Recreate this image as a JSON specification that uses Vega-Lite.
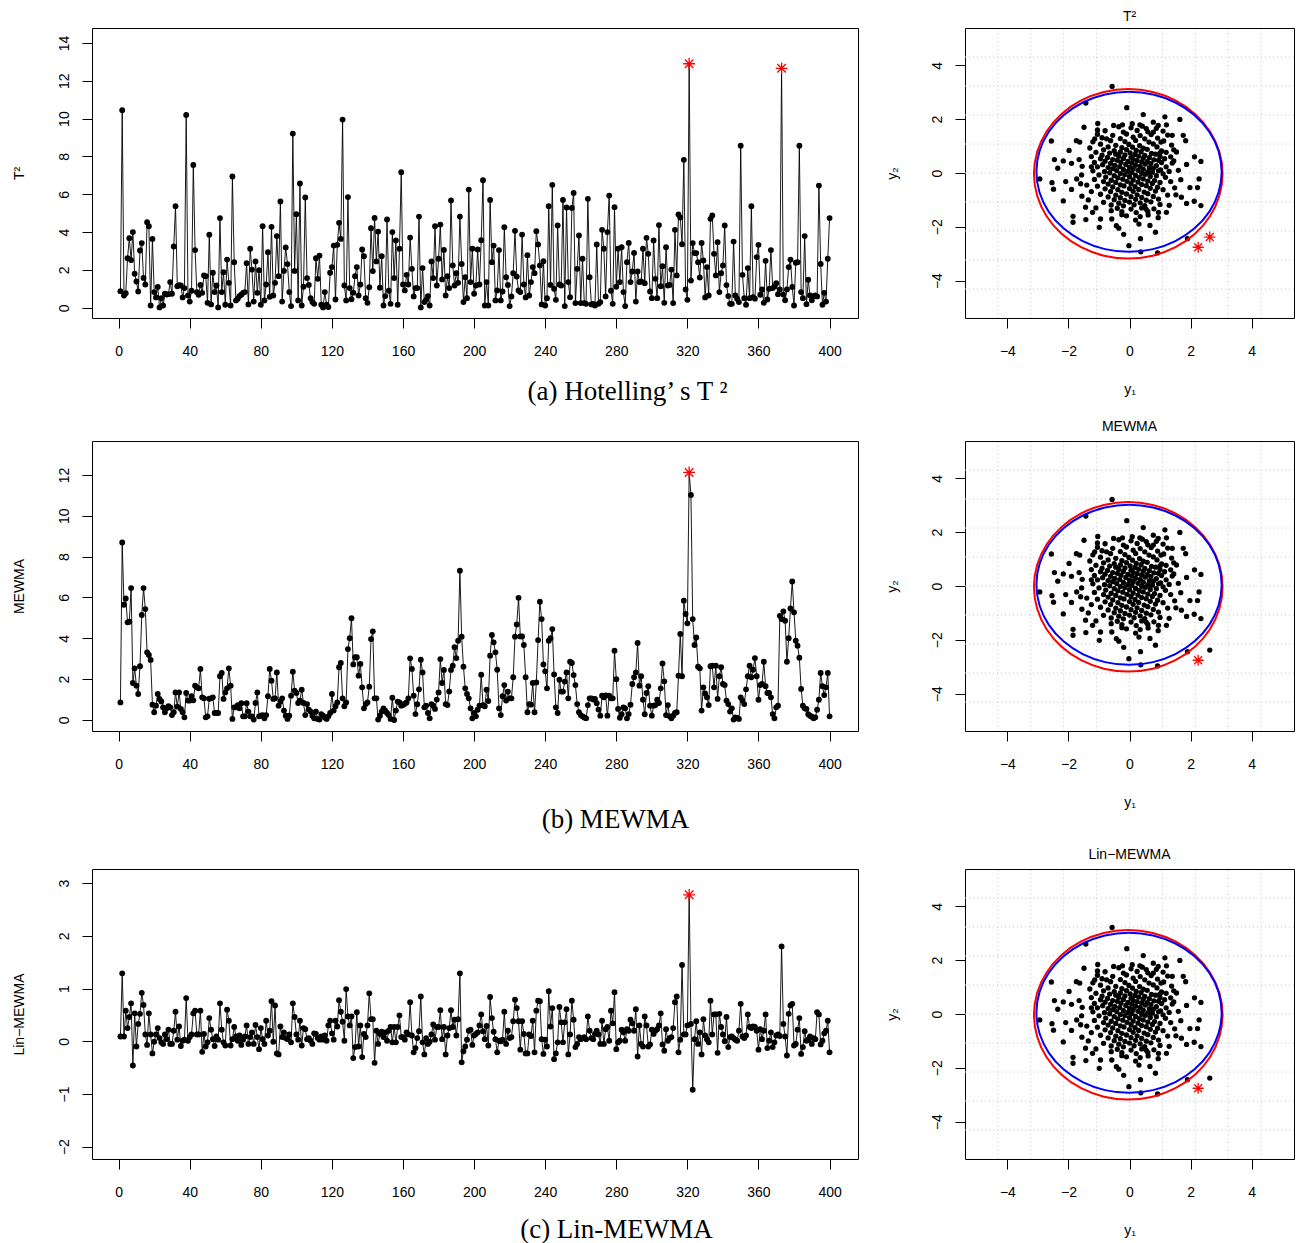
{
"$schema": "https://vega.github.io/schema/vega-lite/v6.json",
"padding": {"left": 11, "top": 9, "right": 0, "bottom": 0},
"spacing": 14,
"config": {
  "font": "Liberation Sans",
  "view": {"stroke": "#000", "strokeWidth": 1},
  "axis": {"domain": false, "grid": false, "ticks": true, "tickColor": "#000", "tickSize": 10, "tickWidth": 1, "labelFontSize": 14, "labelColor": "#000", "titleFontSize": 14, "titleFontWeight": "normal", "titleColor": "#000", "labelFont": "Liberation Sans", "titleFont": "Liberation Sans"},
  "axisX": {"labelPadding": 16, "titlePadding": 24},
  "axisY": {"labelAngle": -90, "labelAlign": "center", "labelBaseline": "bottom", "labelPadding": 11, "titlePadding": 31},
  "title": {"fontSize": 14, "fontWeight": "normal", "font": "Liberation Sans", "color": "#000", "frame": "group", "baseline": "alphabetic"}
},
"datasets": {
"grid": [{"x":-4.312,"y":-4.312},{"x":-3.234,"y":-3.234},{"x":-2.156,"y":-2.156},{"x":-1.078,"y":-1.078},{"x":0,"y":0},{"x":1.078,"y":1.078},{"x":2.156,"y":2.156},{"x":3.234,"y":3.234},{"x":4.312,"y":4.312}],
"ell": [
{"e":"E1","k":0,"x":3.05,"y":-0.03},{"e":"E1","k":1,"x":2.945,"y":0.786},{"e":"E1","k":2,"x":2.636,"y":1.545},{"e":"E1","k":3,"x":2.145,"y":2.197},{"e":"E1","k":4,"x":1.505,"y":2.698},{"e":"E1","k":5,"x":0.76,"y":3.013},{"e":"E1","k":6,"x":-0.04,"y":3.12},{"e":"E1","k":7,"x":-0.84,"y":3.013},{"e":"E1","k":8,"x":-1.585,"y":2.698},{"e":"E1","k":9,"x":-2.225,"y":2.197},{"e":"E1","k":10,"x":-2.716,"y":1.545},{"e":"E1","k":11,"x":-3.025,"y":0.786},{"e":"E1","k":12,"x":-3.13,"y":-0.03},{"e":"E1","k":13,"x":-3.025,"y":-0.846},{"e":"E1","k":14,"x":-2.716,"y":-1.605},{"e":"E1","k":15,"x":-2.225,"y":-2.257},{"e":"E1","k":16,"x":-1.585,"y":-2.758},{"e":"E1","k":17,"x":-0.84,"y":-3.073},{"e":"E1","k":18,"x":-0.04,"y":-3.18},{"e":"E1","k":19,"x":0.76,"y":-3.073},{"e":"E1","k":20,"x":1.505,"y":-2.758},{"e":"E1","k":21,"x":2.145,"y":-2.257},{"e":"E1","k":22,"x":2.636,"y":-1.605},{"e":"E1","k":23,"x":2.945,"y":-0.846},
{"e":"E2","k":0,"x":3.02,"y":0.045},{"e":"E2","k":1,"x":2.917,"y":0.816},{"e":"E2","k":2,"x":2.613,"y":1.533},{"e":"E2","k":3,"x":2.131,"y":2.148},{"e":"E2","k":4,"x":1.503,"y":2.621},{"e":"E2","k":5,"x":0.771,"y":2.919},{"e":"E2","k":6,"x":-0.015,"y":3.02},{"e":"E2","k":7,"x":-0.801,"y":2.919},{"e":"E2","k":8,"x":-1.533,"y":2.621},{"e":"E2","k":9,"x":-2.161,"y":2.148},{"e":"E2","k":10,"x":-2.643,"y":1.533},{"e":"E2","k":11,"x":-2.947,"y":0.816},{"e":"E2","k":12,"x":-3.05,"y":0.045},{"e":"E2","k":13,"x":-2.947,"y":-0.726},{"e":"E2","k":14,"x":-2.643,"y":-1.443},{"e":"E2","k":15,"x":-2.161,"y":-2.058},{"e":"E2","k":16,"x":-1.533,"y":-2.531},{"e":"E2","k":17,"x":-0.801,"y":-2.829},{"e":"E2","k":18,"x":-0.015,"y":-2.93},{"e":"E2","k":19,"x":0.771,"y":-2.829},{"e":"E2","k":20,"x":1.503,"y":-2.531},{"e":"E2","k":21,"x":2.131,"y":-2.058},{"e":"E2","k":22,"x":2.613,"y":-1.443},{"e":"E2","k":23,"x":2.917,"y":-0.726}
],
"sc": [
{"x":2.25,"y":-2.76,"oa":true,"ob":true,"oc":true},{"x":2.63,"y":-2.38,"oa":true},
{"x":-0.57,"y":3.22},{"x":-1.43,"y":2.6},{"x":-0.09,"y":2.43},{"x":0.45,"y":2.17},{"x":1.16,"y":2.09},{"x":1.65,"y":1.99},{"x":-2.56,"y":1.19},{"x":-1.49,"y":1.7},{"x":-1.04,"y":1.84},{"x":-1.98,"y":0.84},{"x":-2.46,"y":0.5},{"x":-2.17,"y":0.45},{"x":-2.35,"y":0.18},{"x":-2.94,"y":-0.22},{"x":-2.54,"y":-0.36},{"x":-2.49,"y":-0.6},{"x":-2.17,"y":-1.04},{"x":-1.9,"y":-0.61},{"x":-1.85,"y":-1.61},{"x":-1.85,"y":-1.83},{"x":-1.43,"y":-1.73},{"x":-0.99,"y":-2.02},{"x":-0.43,"y":-1.96},{"x":-0.19,"y":-2.28},{"x":-0.02,"y":-2.7},{"x":0.37,"y":-2.93},{"x":0.92,"y":-2.97},{"x":0.36,"y":-2.44},{"x":0.31,"y":-1.9},{"x":0.67,"y":-1.95},{"x":0.85,"y":-2.2},{"x":1.9,"y":-2.44},{"x":1.87,"y":-1.13},{"x":2.12,"y":-1.05},{"x":2.34,"y":-1.21},{"x":2.34,"y":0.43},{"x":2.13,"y":0.6},{"x":1.87,"y":0.32},{"x":1.84,"y":1.2},{"x":1.76,"y":1.4},{"x":1.54,"y":0.78},{"x":2.28,"y":-0.22},{"x":1.98,"y":-0.54},{"x":2.23,"y":-0.54},{"x":1.68,"y":-0.25},{"x":1.48,"y":-0.55},{"x":1.52,"y":-0.81},{"x":1.21,"y":-1.46},{"x":0.95,"y":-1.46},{"x":0.94,"y":-1.66},{"x":0.61,"y":-1.56},{"x":-0.58,"y":-1.71},{"x":-1.44,"y":-1.27},{"x":-1.21,"y":-1.46},{"x":-0.95,"y":-1.71},{"x":-1.25,"y":-0.69},{"x":-1.56,"y":-0.86},{"x":-1.73,"y":-0.22},{"x":-1.57,"y":-0.07},{"x":-1.25,"y":0.23},{"x":-1.74,"y":1.2},{"x":-1.63,"y":1.15},{"x":-1.14,"y":1.27},{"x":-0.75,"y":1.27},{"x":-0.52,"y":1.77},{"x":-0.23,"y":1.79},{"x":0.09,"y":1.83},{"x":0.34,"y":1.79},{"x":0.78,"y":1.89},{"x":0.94,"y":1.77},{"x":1.21,"y":1.79},{"x":0.78,"y":1.52},{"x":1.03,"y":1.15},{"x":1.0,"y":0.75},
{"x":-2.09,"y":-0.32},{"x":-1.9,"y":0.36},{"x":-1.65,"y":0.5},{"x":-1.55,"y":0.25},{"x":-1.6,"y":-0.4},{"x":-1.35,"y":-1.0},{"x":-1.4,"y":-0.45},{"x":-1.1,"y":-1.3},{"x":1.4,"y":1.4},{"x":1.3,"y":-1.2},{"x":1.7,"y":-0.9},{"x":1.6,"y":0.1},{"x":1.45,"y":0.45},{"x":-0.6,"y":-1.4},{"x":0.2,"y":-1.75},{"x":-0.25,"y":-1.55},{"x":0.55,"y":-1.35},{"x":-1.05,"y":1.6},{"x":0.55,"y":1.65},{"x":-0.35,"y":-2.05},
{"x":-0.35,"y":1.72},{"x":0.05,"y":1.68},{"x":0.42,"y":1.74},{"x":0.88,"y":1.66},
{"x":-0.8,"y":1.57},{"x":-0.2,"y":1.52},{"x":0.25,"y":1.58},{"x":0.6,"y":1.53},{"x":1.1,"y":1.56},
{"x":-1.05,"y":1.44},{"x":-0.55,"y":1.4},{"x":-0.1,"y":1.45},{"x":0.35,"y":1.39},{"x":0.71,"y":1.43},{"x":1.25,"y":1.41},
{"x":-0.9,"y":1.31},{"x":-0.3,"y":1.28},{"x":0.12,"y":1.33},{"x":0.5,"y":1.27},{"x":0.92,"y":1.3},
{"x":-1.2,"y":1.16},{"x":-0.62,"y":1.2},{"x":-0.15,"y":1.17},{"x":0.2,"y":1.21},{"x":0.64,"y":1.15},{"x":1.12,"y":1.19},
{"x":-0.95,"y":1.07},{"x":-0.45,"y":1.03},{"x":-0.02,"y":1.06},{"x":0.33,"y":1.02},{"x":0.78,"y":1.08},{"x":1.38,"y":1.04},
{"x":-1.3,"y":0.93},{"x":-0.7,"y":0.97},{"x":-0.25,"y":0.94},{"x":0.1,"y":0.96},{"x":0.45,"y":0.92},{"x":0.9,"y":0.97},
{"x":-0.85,"y":0.86},{"x":-0.5,"y":0.83},{"x":-0.1,"y":0.87},{"x":0.22,"y":0.84},{"x":0.58,"y":0.88},{"x":1.05,"y":0.82},{"x":1.45,"y":0.86},
{"x":-1.1,"y":0.77},{"x":-0.65,"y":0.74},{"x":-0.3,"y":0.78},{"x":0.02,"y":0.75},{"x":0.38,"y":0.79},{"x":0.72,"y":0.73},{"x":1.2,"y":0.77},
{"x":-0.9,"y":0.66},{"x":-0.45,"y":0.7},{"x":-0.15,"y":0.67},{"x":0.18,"y":0.69},{"x":0.5,"y":0.65},{"x":0.85,"y":0.7},
{"x":-1.25,"y":0.61},{"x":-0.72,"y":0.58},{"x":-0.35,"y":0.62},{"x":0.05,"y":0.59},{"x":0.3,"y":0.63},{"x":0.65,"y":0.57},{"x":1.0,"y":0.61},{"x":1.35,"y":0.6},
{"x":-0.95,"y":0.53},{"x":-0.55,"y":0.5},{"x":-0.2,"y":0.54},{"x":0.12,"y":0.51},{"x":0.45,"y":0.55},{"x":0.8,"y":0.49},{"x":1.15,"y":0.53},
{"x":-0.8,"y":0.44},{"x":-0.4,"y":0.47},{"x":-0.05,"y":0.43},{"x":0.25,"y":0.46},{"x":0.58,"y":0.42},{"x":0.95,"y":0.47},
{"x":-1.15,"y":0.39},{"x":-0.62,"y":0.36},{"x":-0.28,"y":0.4},{"x":0.08,"y":0.37},{"x":0.4,"y":0.41},{"x":0.7,"y":0.35},{"x":1.05,"y":0.39},{"x":1.4,"y":0.37},
{"x":-0.88,"y":0.31},{"x":-0.48,"y":0.28},{"x":-0.12,"y":0.32},{"x":0.2,"y":0.29},{"x":0.52,"y":0.33},{"x":0.88,"y":0.27},
{"x":-1.05,"y":0.23},{"x":-0.7,"y":0.2},{"x":-0.32,"y":0.24},{"x":0.0,"y":0.21},{"x":0.35,"y":0.25},{"x":0.65,"y":0.19},{"x":1.2,"y":0.23},
{"x":-0.55,"y":0.16},{"x":-0.2,"y":0.13},{"x":0.12,"y":0.17},{"x":0.45,"y":0.14},{"x":0.78,"y":0.18},{"x":1.02,"y":0.12},
{"x":-1.2,"y":0.08},{"x":-0.82,"y":0.05},{"x":-0.42,"y":0.09},{"x":-0.05,"y":0.06},{"x":0.28,"y":0.1},{"x":0.6,"y":0.04},{"x":0.95,"y":0.08},{"x":1.3,"y":0.06},
{"x":-0.65,"y":0.01},{"x":-0.3,"y":-0.02},{"x":0.08,"y":0.02},{"x":0.4,"y":-0.01},{"x":0.75,"y":0.03},{"x":1.1,"y":-0.03},
{"x":-1.0,"y":-0.07},{"x":-0.5,"y":-0.1},{"x":-0.15,"y":-0.06},{"x":0.2,"y":-0.09},{"x":0.52,"y":-0.05},{"x":0.88,"y":-0.1},
{"x":-0.78,"y":-0.15},{"x":-0.38,"y":-0.18},{"x":0.0,"y":-0.14},{"x":0.32,"y":-0.17},{"x":0.68,"y":-0.13},{"x":1.18,"y":-0.16},
{"x":-1.15,"y":-0.24},{"x":-0.6,"y":-0.27},{"x":-0.22,"y":-0.23},{"x":0.12,"y":-0.26},{"x":0.45,"y":-0.22},{"x":0.82,"y":-0.28},
{"x":-0.85,"y":-0.32},{"x":-0.45,"y":-0.35},{"x":-0.08,"y":-0.31},{"x":0.28,"y":-0.34},{"x":0.6,"y":-0.3},{"x":1.0,"y":-0.35},{"x":1.35,"y":-0.32},
{"x":-0.7,"y":-0.41},{"x":-0.3,"y":-0.44},{"x":0.05,"y":-0.4},{"x":0.4,"y":-0.43},{"x":0.75,"y":-0.39},
{"x":-1.05,"y":-0.49},{"x":-0.55,"y":-0.52},{"x":-0.18,"y":-0.48},{"x":0.18,"y":-0.51},{"x":0.55,"y":-0.47},{"x":0.92,"y":-0.53},
{"x":-0.8,"y":-0.59},{"x":-0.38,"y":-0.62},{"x":0.0,"y":-0.58},{"x":0.3,"y":-0.61},{"x":0.68,"y":-0.57},{"x":1.1,"y":-0.62},
{"x":-0.62,"y":-0.69},{"x":-0.25,"y":-0.72},{"x":0.12,"y":-0.68},{"x":0.48,"y":-0.71},{"x":0.85,"y":-0.67},
{"x":-0.95,"y":-0.79},{"x":-0.45,"y":-0.82},{"x":-0.1,"y":-0.78},{"x":0.25,"y":-0.81},{"x":0.6,"y":-0.77},{"x":1.25,"y":-0.82},
{"x":-0.7,"y":-0.89},{"x":-0.3,"y":-0.92},{"x":0.05,"y":-0.88},{"x":0.4,"y":-0.91},{"x":0.78,"y":-0.87},
{"x":-0.5,"y":-0.99},{"x":-0.15,"y":-1.02},{"x":0.2,"y":-0.98},{"x":0.55,"y":-1.01},{"x":0.95,"y":-0.97},
{"x":-0.85,"y":-1.09},{"x":-0.35,"y":-1.12},{"x":0.0,"y":-1.08},{"x":0.35,"y":-1.11},{"x":0.7,"y":-1.07},
{"x":-0.6,"y":-1.19},{"x":-0.2,"y":-1.22},{"x":0.15,"y":-1.18},{"x":0.5,"y":-1.21},{"x":1.0,"y":-1.17},
{"x":-0.4,"y":-1.31},{"x":0.05,"y":-1.34},{"x":0.4,"y":-1.3},{"x":0.8,"y":-1.33},
{"x":-0.25,"y":-1.44},{"x":0.22,"y":-1.47},{"x":0.6,"y":-1.43},
{"x":-0.1,"y":-1.59},{"x":0.35,"y":-1.62}
],
"ts": [
{"t":1,"a":0.88,"b":0.86,"c":0.09},{"t":2,"a":10.44,"b":8.69,"c":1.29},{"t":3,"a":0.65,"b":5.64,"c":0.09},{"t":4,"a":0.77,"b":5.95,"c":0.58},{"t":5,"a":2.62,"b":4.78,"c":0.25},{"t":6,"a":3.68,"b":4.81,"c":0.46},{"t":7,"a":2.52,"b":6.46,"c":0.72},{"t":8,"a":4.0,"b":1.81,"c":-0.46},{"t":9,"a":1.8,"b":2.53,"c":0.53},{"t":10,"a":1.39,"b":1.68,"c":-0.1},
{"t":11,"a":0.86,"b":1.27,"c":0.33},{"t":12,"a":3.03,"b":2.63,"c":0.52},{"t":13,"a":3.42,"b":5.14,"c":0.92},{"t":14,"a":1.58,"b":6.46,"c":0.69},{"t":15,"a":1.23,"b":5.43,"c":0.13},{"t":16,"a":4.52,"b":3.31,"c":-0.07},{"t":17,"a":4.31,"b":3.18,"c":0.53},{"t":18,"a":0.12,"b":2.94,"c":0.13},{"t":19,"a":3.64,"b":0.75,"c":-0.23},{"t":20,"a":0.83,"b":0.38,"c":-0.01},
{"t":21,"a":0.55,"b":0.7,"c":0.13},{"t":22,"a":1.1,"b":1.27,"c":0.25},{"t":23,"a":0.02,"b":1.03,"c":0.06},{"t":24,"a":0.51,"b":0.91,"c":-0.02},{"t":25,"a":0.12,"b":0.62,"c":-0.05},{"t":26,"a":0.74,"b":0.38,"c":0.13},{"t":27,"a":0.7,"b":0.57,"c":0.04},{"t":28,"a":0.72,"b":0.67,"c":0.22},{"t":29,"a":1.36,"b":0.62,"c":-0.05},{"t":30,"a":0.74,"b":0.24,"c":-0.05},
{"t":31,"a":3.24,"b":0.38,"c":0.2},{"t":32,"a":5.37,"b":1.35,"c":0.56},{"t":33,"a":1.14,"b":0.65,"c":0.03},{"t":34,"a":1.2,"b":1.35,"c":0.28},{"t":35,"a":1.18,"b":0.54,"c":-0.09},{"t":36,"a":0.55,"b":0.38,"c":0.01},{"t":37,"a":1.04,"b":0.13,"c":0.03},{"t":38,"a":10.19,"b":1.32,"c":0.82},{"t":39,"a":0.65,"b":0.95,"c":0.01},{"t":40,"a":0.33,"b":0.95,"c":0.08},
{"t":41,"a":0.9,"b":1.16,"c":0.13},{"t":42,"a":7.55,"b":0.96,"c":0.53},{"t":43,"a":3.05,"b":1.68,"c":0.58},{"t":44,"a":0.83,"b":1.6,"c":0.13},{"t":45,"a":0.69,"b":1.55,"c":0.13},{"t":46,"a":1.21,"b":2.5,"c":0.58},{"t":47,"a":0.79,"b":1.11,"c":-0.2},{"t":48,"a":1.71,"b":1.06,"c":0.14},{"t":49,"a":1.67,"b":0.13,"c":-0.1},{"t":50,"a":0.26,"b":0.18,"c":-0.02},
{"t":51,"a":3.86,"b":1.04,"c":0.44},{"t":52,"a":0.18,"b":1.06,"c":0.22},{"t":53,"a":1.85,"b":1.11,"c":0.04},{"t":54,"a":0.83,"b":0.34,"c":-0.09},{"t":55,"a":1.18,"b":0.34,"c":0.09},{"t":56,"a":0.02,"b":0.34,"c":0.03},{"t":57,"a":4.74,"b":2.14,"c":0.72},{"t":58,"a":0.83,"b":2.3,"c":0.22},{"t":59,"a":1.88,"b":1.03,"c":-0.02},{"t":60,"a":0.16,"b":1.35,"c":-0.08},
{"t":61,"a":2.55,"b":1.55,"c":0.6},{"t":62,"a":1.32,"b":2.53,"c":0.39},{"t":63,"a":0.12,"b":1.68,"c":-0.08},{"t":64,"a":6.94,"b":0.05,"c":0.04},{"t":65,"a":2.41,"b":0.62,"c":0.27},{"t":66,"a":0.39,"b":0.62,"c":0.09},{"t":67,"a":0.48,"b":0.73,"c":0.01},{"t":68,"a":0.62,"b":0.57,"c":0.11},{"t":69,"a":0.69,"b":0.82,"c":-0.07},{"t":70,"a":0.79,"b":0.18,"c":0.03},
{"t":71,"a":0.83,"b":0.18,"c":0.09},{"t":72,"a":2.36,"b":0.82,"c":0.3},{"t":73,"a":0.18,"b":0.41,"c":-0.05},{"t":74,"a":3.12,"b":0.18,"c":0.08},{"t":75,"a":2.02,"b":0.18,"c":0.17},{"t":76,"a":0.33,"b":0.02,"c":-0.05},{"t":77,"a":2.45,"b":0.83,"c":0.31},{"t":78,"a":0.79,"b":1.35,"c":0.08},{"t":79,"a":1.99,"b":0.18,"c":-0.15},{"t":80,"a":0.16,"b":0.21,"c":0.25},
{"t":81,"a":4.31,"b":0.24,"c":0.04},{"t":82,"a":0.39,"b":0.08,"c":-0.05},{"t":83,"a":1.23,"b":0.24,"c":0.39},{"t":84,"a":2.94,"b":1.16,"c":0.11},{"t":85,"a":0.58,"b":2.5,"c":0.2},{"t":86,"a":4.28,"b":1.92,"c":0.76},{"t":87,"a":0.65,"b":1.03,"c":-0.01},{"t":88,"a":1.32,"b":1.06,"c":0.68},{"t":89,"a":3.79,"b":2.33,"c":-0.23},{"t":90,"a":1.67,"b":0.7,"c":-0.25},
{"t":91,"a":5.62,"b":0.9,"c":0.28},{"t":92,"a":0.33,"b":1.06,"c":0.08},{"t":93,"a":1.95,"b":0.46,"c":0.17},{"t":94,"a":3.19,"b":0.21,"c":0.06},{"t":95,"a":2.31,"b":0.05,"c":0.04},{"t":96,"a":0.83,"b":0.21,"c":0.13},{"t":97,"a":0.09,"b":1.19,"c":-0.02},{"t":98,"a":9.21,"b":2.36,"c":0.72},{"t":99,"a":1.95,"b":1.44,"c":0.46},{"t":100,"a":4.95,"b":1.32,"c":0.13},
{"t":101,"a":0.39,"b":0.83,"c":0.03},{"t":102,"a":6.57,"b":0.95,"c":0.39},{"t":103,"a":0.12,"b":1.48,"c":-0.08},{"t":104,"a":1.11,"b":0.83,"c":0.25},{"t":105,"a":5.83,"b":0.24,"c":0.23},{"t":106,"a":1.57,"b":0.78,"c":0.04},{"t":107,"a":1.21,"b":0.51,"c":0.06},{"t":108,"a":0.51,"b":0.41,"c":0.01},{"t":109,"a":0.3,"b":0.21,"c":-0.05},{"t":110,"a":0.21,"b":0.08,"c":0.15},
{"t":111,"a":2.62,"b":0.41,"c":0.14},{"t":112,"a":1.53,"b":0.05,"c":0.06},{"t":113,"a":2.76,"b":0.02,"c":0.03},{"t":114,"a":0.16,"b":0.29,"c":0.09},{"t":115,"a":0.02,"b":0.21,"c":0.03},{"t":116,"a":0.83,"b":0.12,"c":0.11},{"t":117,"a":0.16,"b":0.05,"c":0.01},{"t":118,"a":0.04,"b":0.18,"c":0.3},{"t":119,"a":1.85,"b":0.34,"c":0.39},{"t":120,"a":2.15,"b":1.27,"c":0.15},
{"t":121,"a":3.29,"b":0.46,"c":0.03},{"t":122,"a":0.44,"b":0.67,"c":0.39},{"t":123,"a":3.33,"b":0.86,"c":0.28},{"t":124,"a":4.49,"b":2.58,"c":0.78},{"t":125,"a":3.64,"b":2.79,"c":0.56},{"t":126,"a":9.95,"b":1.06,"c":0.37},{"t":127,"a":1.18,"b":0.67,"c":0.01},{"t":128,"a":0.39,"b":0.86,"c":0.99},{"t":129,"a":5.85,"b":3.47,"c":0.47},{"t":130,"a":1.04,"b":4.0,"c":0.3},
{"t":131,"a":0.45,"b":4.98,"c":0.47},{"t":132,"a":0.8,"b":2.72,"c":-0.32},{"t":133,"a":1.67,"b":3.07,"c":-0.11},{"t":134,"a":2.15,"b":3.07,"c":0.55},{"t":135,"a":0.65,"b":2.17,"c":-0.1},{"t":136,"a":1.23,"b":2.74,"c":0.3},{"t":137,"a":3.08,"b":1.6,"c":-0.3},{"t":138,"a":2.73,"b":0.57,"c":0.14},{"t":139,"a":0.51,"b":0.78,"c":0.08},{"t":140,"a":0.26,"b":0.86,"c":0.3},
{"t":141,"a":1.09,"b":1.63,"c":0.91},{"t":142,"a":4.21,"b":3.96,"c":0.42},{"t":143,"a":1.94,"b":4.34,"c":0.42},{"t":144,"a":4.75,"b":1.06,"c":-0.41},{"t":145,"a":2.45,"b":1.06,"c":0.2},{"t":146,"a":4.03,"b":0.02,"c":-0.05},{"t":147,"a":1.06,"b":0.21,"c":0.14},{"t":148,"a":2.73,"b":0.41,"c":0.18},{"t":149,"a":0.12,"b":0.57,"c":0.08},{"t":150,"a":0.62,"b":0.45,"c":0.17},
{"t":151,"a":4.67,"b":0.34,"c":0.01},{"t":152,"a":0.9,"b":0.24,"c":0.2},{"t":153,"a":0.21,"b":0.05,"c":0.27},{"t":154,"a":4.0,"b":1.09,"c":-0.02},{"t":155,"a":1.57,"b":0.0,"c":0.27},{"t":156,"a":3.56,"b":0.46,"c":-0.02},{"t":157,"a":0.16,"b":0.9,"c":0.27},{"t":158,"a":3.12,"b":0.86,"c":0.49},{"t":159,"a":7.17,"b":0.7,"c":0.08},{"t":160,"a":1.23,"b":0.73,"c":0.08},
{"t":161,"a":0.92,"b":0.8,"c":0.03},{"t":162,"a":1.74,"b":0.86,"c":0.17},{"t":163,"a":1.23,"b":1.06,"c":0.13},{"t":164,"a":3.71,"b":3.02,"c":0.74},{"t":165,"a":2.06,"b":2.5,"c":0.11},{"t":166,"a":0.6,"b":1.19,"c":-0.21},{"t":167,"a":1.04,"b":0.29,"c":-0.13},{"t":168,"a":1.04,"b":0.77,"c":0.06},{"t":169,"a":4.82,"b":1.5,"c":0.19},{"t":170,"a":0.02,"b":2.95,"c":0.85},
{"t":171,"a":2.1,"b":2.33,"c":-0.02},{"t":172,"a":0.3,"b":0.62,"c":-0.25},{"t":173,"a":0.42,"b":0.7,"c":0.06},{"t":174,"a":0.62,"b":0.34,"c":-0.05},{"t":175,"a":0.12,"b":0.08,"c":-0.01},{"t":176,"a":2.45,"b":0.78,"c":0.13},{"t":177,"a":1.57,"b":0.7,"c":0.32},{"t":178,"a":4.31,"b":0.54,"c":0.03},{"t":179,"a":1.18,"b":1.0,"c":0.27},{"t":180,"a":2.59,"b":1.35,"c":0.27},
{"t":181,"a":4.4,"b":2.98,"c":0.59},{"t":182,"a":1.5,"b":1.81,"c":0.04},{"t":183,"a":3.06,"b":2.45,"c":0.27},{"t":184,"a":0.65,"b":0.78,"c":-0.25},{"t":185,"a":1.67,"b":0.73,"c":0.11},{"t":186,"a":1.04,"b":1.4,"c":0.25},{"t":187,"a":5.67,"b":2.45,"c":0.59},{"t":188,"a":2.24,"b":2.66,"c":0.27},{"t":189,"a":1.18,"b":3.56,"c":0.41},{"t":190,"a":1.83,"b":3.03,"c":0.11},
{"t":191,"a":1.32,"b":3.88,"c":0.42},{"t":192,"a":4.82,"b":7.31,"c":1.29},{"t":193,"a":2.32,"b":4.08,"c":-0.4},{"t":194,"a":0.3,"b":2.61,"c":-0.19},{"t":195,"a":1.62,"b":1.55,"c":-0.1},{"t":196,"a":0.51,"b":1.27,"c":0.03},{"t":197,"a":6.25,"b":1.06,"c":0.2},{"t":198,"a":1.36,"b":0.57,"c":0.22},{"t":199,"a":3.12,"b":0.08,"c":-0.07},{"t":200,"a":0.74,"b":0.34,"c":0.11},
{"t":201,"a":1.18,"b":0.18,"c":0.14},{"t":202,"a":3.08,"b":0.5,"c":0.17},{"t":203,"a":1.23,"b":0.7,"c":0.3},{"t":204,"a":3.57,"b":2.22,"c":0.51},{"t":205,"a":6.74,"b":0.73,"c":0.19},{"t":206,"a":0.12,"b":0.67,"c":0.04},{"t":207,"a":1.36,"b":1.48,"c":0.29},{"t":208,"a":0.12,"b":0.93,"c":-0.08},{"t":209,"a":5.7,"b":3.15,"c":0.84},{"t":210,"a":2.41,"b":4.16,"c":0.44},
{"t":211,"a":3.29,"b":3.8,"c":0.18},{"t":212,"a":0.39,"b":3.31,"c":0.04},{"t":213,"a":0.92,"b":2.46,"c":-0.21},{"t":214,"a":3.05,"b":0.57,"c":0.01},{"t":215,"a":0.39,"b":0.24,"c":0},{"t":216,"a":0.86,"b":1.16,"c":0.03},{"t":217,"a":4.26,"b":1.71,"c":0.56},{"t":218,"a":1.62,"b":0.95,"c":-0.05},{"t":219,"a":1.21,"b":1.39,"c":0.2},{"t":220,"a":0.09,"b":1.06,"c":0.06},
{"t":221,"a":0.6,"b":1.06,"c":0.08},{"t":222,"a":1.83,"b":2.09,"c":0.38},{"t":223,"a":4.07,"b":4.08,"c":0.79},{"t":224,"a":1.65,"b":4.68,"c":0.63},{"t":225,"a":0.92,"b":5.98,"c":0.38},{"t":226,"a":0.83,"b":4.09,"c":-0.16},{"t":227,"a":3.87,"b":4.09,"c":0.38},{"t":228,"a":1.23,"b":3.67,"c":0.14},{"t":229,"a":0.55,"b":2.09,"c":-0.23},{"t":230,"a":2.78,"b":0.38,"c":-0.23},
{"t":231,"a":0.65,"b":0.78,"c":0.13},{"t":232,"a":1.36,"b":0.75,"c":0.1},{"t":233,"a":2.15,"b":1.81,"c":0.39},{"t":234,"a":1.83,"b":0.38,"c":-0.21},{"t":235,"a":4.05,"b":1.84,"c":0.58},{"t":236,"a":3.35,"b":3.91,"c":0.77},{"t":237,"a":2.24,"b":5.79,"c":0.76},{"t":238,"a":0.18,"b":4.94,"c":0.04},{"t":239,"a":2.46,"b":2.72,"c":-0.24},{"t":240,"a":0.12,"b":2.38,"c":0.03},
{"t":241,"a":0.51,"b":1.55,"c":-0.1},{"t":242,"a":5.37,"b":3.88,"c":0.95},{"t":243,"a":1.21,"b":4.0,"c":0.28},{"t":244,"a":6.5,"b":4.45,"c":0.63},{"t":245,"a":1.0,"b":2.23,"c":-0.34},{"t":246,"a":0.42,"b":0.62,"c":-0.23},{"t":247,"a":4.35,"b":0.34,"c":-0.02},{"t":248,"a":1.23,"b":1.97,"c":0.65},{"t":249,"a":1.18,"b":1.39,"c":0.36},{"t":250,"a":5.7,"b":1.39,"c":-0.02},
{"t":251,"a":0.09,"b":1.88,"c":0.36},{"t":252,"a":5.3,"b":2.33,"c":0.61},{"t":253,"a":1.36,"b":1.06,"c":-0.25},{"t":254,"a":0.56,"b":2.85,"c":0.13},{"t":255,"a":5.28,"b":2.79,"c":0.77},{"t":256,"a":6.07,"b":2.2,"c":0.41},{"t":257,"a":0.25,"b":1.71,"c":-0.11},{"t":258,"a":2.06,"b":0.78,"c":-0.05},{"t":259,"a":3.82,"b":0.38,"c":0.08},{"t":260,"a":0.25,"b":0.24,"c":0.04},
{"t":261,"a":2.59,"b":0.18,"c":0.06},{"t":262,"a":0.25,"b":0.12,"c":0.08},{"t":263,"a":0.21,"b":0.08,"c":0.04},{"t":264,"a":5.76,"b":0.73,"c":0.47},{"t":265,"a":1.62,"b":1.06,"c":0.2},{"t":266,"a":0.18,"b":1.06,"c":0.06},{"t":267,"a":0.21,"b":1.0,"c":0.04},{"t":268,"a":0.12,"b":1.03,"c":0.14},{"t":269,"a":3.35,"b":0.82,"c":0.2},{"t":270,"a":0.21,"b":0.51,"c":0.13},
{"t":271,"a":0.3,"b":0.21,"c":-0.05},{"t":272,"a":4.12,"b":1.19,"c":0.39},{"t":273,"a":3.12,"b":1.11,"c":-0.05},{"t":274,"a":0.6,"b":1.2,"c":0.23},{"t":275,"a":4.0,"b":0.21,"c":0.27},{"t":276,"a":5.93,"b":1.19,"c":0.01},{"t":277,"a":0.9,"b":1.06,"c":0.58},{"t":278,"a":0.21,"b":1.06,"c":0.34},{"t":279,"a":5.32,"b":3.39,"c":0.93},{"t":280,"a":1.11,"b":2.0,"c":-0.15},
{"t":281,"a":3.12,"b":0.54,"c":-0.02},{"t":282,"a":1.36,"b":0.11,"c":0.01},{"t":283,"a":3.2,"b":0.28,"c":0.22},{"t":284,"a":0.83,"b":0.62,"c":0.17},{"t":285,"a":0.09,"b":0.57,"c":0.01},{"t":286,"a":2.41,"b":0.08,"c":0.23},{"t":287,"a":3.43,"b":0.29,"c":0.2},{"t":288,"a":1.36,"b":0.75,"c":0.41},{"t":289,"a":1.92,"b":1.76,"c":0.34},{"t":290,"a":2.9,"b":2.09,"c":0.2},
{"t":291,"a":0.33,"b":2.33,"c":0.61},{"t":292,"a":1.92,"b":3.77,"c":-0.29},{"t":293,"a":1.36,"b":1.68,"c":0.3},{"t":294,"a":1.39,"b":2.14,"c":-0.05},{"t":295,"a":3.12,"b":0.99,"c":-0.1},{"t":296,"a":1.3,"b":0.28,"c":0.47},{"t":297,"a":3.7,"b":1.32,"c":0.3},{"t":298,"a":2.85,"b":1.65,"c":-0.1},{"t":299,"a":0.86,"b":0.7,"c":-0.06},{"t":300,"a":0.51,"b":0.21,"c":0.22},
{"t":301,"a":3.56,"b":0.7,"c":0.14},{"t":302,"a":1.53,"b":0.73,"c":0.2},{"t":303,"a":0.51,"b":0.99,"c":0.23},{"t":304,"a":4.37,"b":0.83,"c":0.3},{"t":305,"a":1.14,"b":1.55,"c":0.53},{"t":306,"a":2.2,"b":2.77,"c":-0.06},{"t":307,"a":0.26,"b":1.89,"c":-0.18},{"t":308,"a":3.2,"b":0.24,"c":0.23},{"t":309,"a":1.18,"b":0.73,"c":0.01},{"t":310,"a":1.21,"b":0.18,"c":0.06},
{"t":311,"a":2.02,"b":0.08,"c":0.08},{"t":312,"a":0.25,"b":0.21,"c":0.25},{"t":313,"a":4.12,"b":0.34,"c":0.74},{"t":314,"a":1.71,"b":0.38,"c":0.85},{"t":315,"a":4.93,"b":2.17,"c":-0.21},{"t":316,"a":4.77,"b":4.21,"c":0.03},{"t":317,"a":3.36,"b":2.14,"c":1.45},{"t":318,"a":7.82,"b":5.84,"c":0.13},{"t":319,"a":0.97,"b":5.19,"c":0.13},{"t":320,"a":0.42,"b":4.73,"c":0.3},
{"t":321,"a":12.9,"b":12.12,"c":2.78},{"t":322,"a":1.44,"b":11.02,"c":0.33},{"t":323,"a":3.42,"b":4.94,"c":-0.92},{"t":324,"a":2.89,"b":3.67,"c":0.04},{"t":325,"a":2.89,"b":4.04,"c":0.38},{"t":326,"a":2.41,"b":2.61,"c":-0.05},{"t":327,"a":1.6,"b":2.53,"c":0.17},{"t":328,"a":3.43,"b":0.46,"c":-0.25},{"t":329,"a":2.5,"b":1.6,"c":0.42},{"t":330,"a":0.55,"b":1.3,"c":0.11},
{"t":331,"a":2.15,"b":1.11,"c":0.04},{"t":332,"a":0.65,"b":0.73,"c":-0.02},{"t":333,"a":4.7,"b":2.63,"c":0.77},{"t":334,"a":4.88,"b":2.66,"c":0.13},{"t":335,"a":2.85,"b":1.6,"c":0.51},{"t":336,"a":1.71,"b":2.66,"c":0.51},{"t":337,"a":3.47,"b":1.03,"c":-0.22},{"t":338,"a":0.83,"b":2.14,"c":0.52},{"t":339,"a":1.83,"b":2.58,"c":0.27},{"t":340,"a":2.24,"b":1.76,"c":0.13},
{"t":341,"a":4.35,"b":1.71,"c":0},{"t":342,"a":1.2,"b":0.95,"c":0.46},{"t":343,"a":0.62,"b":0.78,"c":-0.11},{"t":344,"a":0.21,"b":0.41,"c":0.08},{"t":345,"a":0.21,"b":0.57,"c":0.09},{"t":346,"a":3.5,"b":0.02,"c":0.06},{"t":347,"a":0.65,"b":0.13,"c":0.03},{"t":348,"a":0.48,"b":0.1,"c":0.01},{"t":349,"a":0.3,"b":0.05,"c":0.2},{"t":350,"a":8.57,"b":1.11,"c":0.71},
{"t":351,"a":1.74,"b":0.95,"c":0.09},{"t":352,"a":0.51,"b":0.78,"c":0.06},{"t":353,"a":0.16,"b":1.5,"c":0.11},{"t":354,"a":2.1,"b":2.14,"c":0.51},{"t":355,"a":0.51,"b":2.66,"c":0.27},{"t":356,"a":5.37,"b":2.09,"c":0.25},{"t":357,"a":0.56,"b":2.46,"c":0.28},{"t":358,"a":0.48,"b":3.03,"c":0.27},{"t":359,"a":2.68,"b":2.14,"c":0.2},{"t":360,"a":3.33,"b":0.99,"c":-0.16},
{"t":361,"a":0.69,"b":1.71,"c":0.23},{"t":362,"a":0.97,"b":1.76,"c":0.04},{"t":363,"a":0.26,"b":2.85,"c":0.2},{"t":364,"a":2.48,"b":1.65,"c":0.51},{"t":365,"a":0.44,"b":1.32,"c":-0.13},{"t":366,"a":1.0,"b":1.32,"c":0.01},{"t":367,"a":3.05,"b":1.11,"c":0.17},{"t":368,"a":1.04,"b":0.29,"c":-0.11},{"t":369,"a":1.13,"b":0.08,"c":-0.02},{"t":370,"a":1.3,"b":0.62,"c":0.11},
{"t":371,"a":0.72,"b":0.7,"c":0.13},{"t":372,"a":0.97,"b":5.1,"c":0.1},{"t":373,"a":12.66,"b":4.94,"c":1.8},{"t":374,"a":0.7,"b":5.32,"c":0.33},{"t":375,"a":0.4,"b":4.86,"c":0.09},{"t":376,"a":0.97,"b":2.85,"c":-0.27},{"t":377,"a":2.15,"b":4.0,"c":0.52},{"t":378,"a":2.55,"b":5.46,"c":0.68},{"t":379,"a":1.1,"b":6.78,"c":0.71},{"t":380,"a":0.12,"b":5.27,"c":-0.08},
{"t":381,"a":2.38,"b":3.88,"c":-0.05},{"t":382,"a":2.41,"b":3.64,"c":0.22},{"t":383,"a":8.57,"b":3.05,"c":0.44},{"t":384,"a":0.83,"b":1.52,"c":-0.24},{"t":385,"a":0.51,"b":0.7,"c":-0.11},{"t":386,"a":3.79,"b":0.57,"c":0.19},{"t":387,"a":0.19,"b":0.54,"c":0.01},{"t":388,"a":1.48,"b":0.28,"c":0.03},{"t":389,"a":0.65,"b":0.21,"c":0.09},{"t":390,"a":0.4,"b":0.16,"c":-0.05},
{"t":391,"a":0.62,"b":0.08,"c":0.06},{"t":392,"a":0.65,"b":0.13,"c":0.04},{"t":393,"a":0.6,"b":0.5,"c":0.55},{"t":394,"a":6.46,"b":0.99,"c":0.51},{"t":395,"a":2.32,"b":2.3,"c":-0.06},{"t":396,"a":0.16,"b":1.65,"c":0.01},{"t":397,"a":0.79,"b":1.22,"c":0.15},{"t":398,"a":0.33,"b":1.6,"c":0.2},{"t":399,"a":2.59,"b":2.3,"c":0.39},{"t":400,"a":4.74,"b":0.18,"c":-0.21}
]
},
"vconcat": [
{"spacing": 25, "hconcat": [
  {"width": 766, "height": 290, "title": {"text": " ", "offset": 4}, "data": {"name": "ts"},
   "encoding": {
     "x": {"field": "t", "type": "quantitative", "scale": {"domain": [-15, 416], "nice": false, "zero": false},
           "axis": {"values": [0,40,80,120,160,200,240,280,320,360,400], "title": "(a)  Hotelling’ s T ²", "titleFont": "Liberation Serif", "titleFontSize": 27, "titleX": 535, "titlePadding": 20}},
     "y": {"field": "a", "type": "quantitative", "scale": {"domain": [-0.54, 14.79], "nice": false, "zero": false},
           "axis": {"values": [0,2,4,6,8,10,12,14], "title": "T²"}}},
   "layer": [
     {"data": {"values": [{}]}, "mark": {"type": "rule", "strokeDash": [1,3], "color": "#000"}, "encoding": {"y": {"datum": 11.21}, "x": {"datum": -15}, "x2": {"datum": 416}}},
     {"data": {"values": [{}]}, "mark": {"type": "rule", "strokeDash": [6,3], "color": "#555"}, "encoding": {"x": {"datum": 201}, "y": {"datum": -0.54}, "y2": {"datum": 14.79}}},
     {"mark": {"type": "line", "color": "#000", "strokeWidth": 0.9}, "encoding": {}},
     {"transform": [{"filter": "datum.a <= 11.21"}], "mark": {"type": "circle", "size": 34, "color": "#000", "opacity": 1}, "encoding": {}},
     {"transform": [{"filter": "datum.a > 11.21"}], "mark": {"type": "point", "shape": "M-1,0L1,0M0,-1L0,1M-0.72,-0.72L0.72,0.72M-0.72,0.72L0.72,-0.72", "size": 140, "color": "#ff0000", "strokeWidth": 1.3, "opacity": 1}, "encoding": {}}
   ]},
  {"width": 329, "height": 290, "title": {"text": "T²", "offset": 4},
   "encoding": {
     "x": {"field": "x", "type": "quantitative", "scale": {"domain": [-5.39, 5.39], "nice": false, "zero": false}, "axis": {"values": [-4,-2,0,2,4], "title": "y₁"}},
     "y": {"field": "y", "type": "quantitative", "scale": {"domain": [-5.39, 5.39], "nice": false, "zero": false}, "axis": {"values": [-4,-2,0,2,4], "title": "y₂"}}},
   "layer": [
     {"data": {"name": "grid"}, "mark": {"type": "rule", "color": "#c8c8c8", "strokeDash": [1,3]}, "encoding": {"y": {"datum": -5.39}, "y2": {"datum": 5.39}}},
     {"data": {"name": "grid"}, "mark": {"type": "rule", "color": "#c8c8c8", "strokeDash": [1,3]}, "encoding": {"x": {"datum": -5.39}, "x2": {"datum": 5.39}}},
     {"data": {"name": "sc"}, "transform": [{"filter": "!datum.oa"}], "mark": {"type": "circle", "size": 28, "color": "#000", "opacity": 1}, "encoding": {}},
     {"data": {"name": "ell"}, "mark": {"type": "line", "interpolate": "cardinal-closed", "strokeWidth": 2}, "encoding": {"order": {"field": "k", "type": "quantitative"}, "color": {"field": "e", "type": "nominal", "scale": {"domain": ["E1","E2"], "range": ["#ff0000","#0000ff"]}, "legend": null}}},
     {"data": {"name": "sc"}, "transform": [{"filter": "datum.oa"}], "mark": {"type": "point", "shape": "M-1,0L1,0M0,-1L0,1M-0.72,-0.72L0.72,0.72M-0.72,0.72L0.72,-0.72", "size": 121, "color": "#ff0000", "strokeWidth": 1.3, "opacity": 1}, "encoding": {}}
   ]}
]},
{"spacing": 25, "hconcat": [
  {"width": 766, "height": 290, "title": {"text": " ", "offset": 7}, "data": {"name": "ts"},
   "encoding": {
     "x": {"field": "t", "type": "quantitative", "scale": {"domain": [-15, 416], "nice": false, "zero": false},
           "axis": {"values": [0,40,80,120,160,200,240,280,320,360,400], "title": "(b)   MEWMA", "titleFont": "Liberation Serif", "titleFontSize": 27, "titleX": 523, "titlePadding": 35}},
     "y": {"field": "b", "type": "quantitative", "scale": {"domain": [-0.54, 13.66], "nice": false, "zero": false},
           "axis": {"values": [0,2,4,6,8,10,12], "title": "MEWMA"}}},
   "layer": [
     {"data": {"values": [{}]}, "mark": {"type": "rule", "strokeDash": [1,3], "color": "#000"}, "encoding": {"y": {"datum": 11.43}, "x": {"datum": -15}, "x2": {"datum": 416}}},
     {"data": {"values": [{}]}, "mark": {"type": "rule", "strokeDash": [6,3], "color": "#555"}, "encoding": {"x": {"datum": 201}, "y": {"datum": -0.54}, "y2": {"datum": 13.66}}},
     {"mark": {"type": "line", "color": "#000", "strokeWidth": 0.9}, "encoding": {}},
     {"transform": [{"filter": "datum.b <= 11.43"}], "mark": {"type": "circle", "size": 34, "color": "#000", "opacity": 1}, "encoding": {}},
     {"transform": [{"filter": "datum.b > 11.43"}], "mark": {"type": "point", "shape": "M-1,0L1,0M0,-1L0,1M-0.72,-0.72L0.72,0.72M-0.72,0.72L0.72,-0.72", "size": 140, "color": "#ff0000", "strokeWidth": 1.3, "opacity": 1}, "encoding": {}}
   ]},
  {"width": 329, "height": 290, "title": {"text": "MEWMA", "offset": 7},
   "encoding": {
     "x": {"field": "x", "type": "quantitative", "scale": {"domain": [-5.39, 5.39], "nice": false, "zero": false}, "axis": {"values": [-4,-2,0,2,4], "title": "y₁"}},
     "y": {"field": "y", "type": "quantitative", "scale": {"domain": [-5.39, 5.39], "nice": false, "zero": false}, "axis": {"values": [-4,-2,0,2,4], "title": "y₂"}}},
   "layer": [
     {"data": {"name": "grid"}, "mark": {"type": "rule", "color": "#c8c8c8", "strokeDash": [1,3]}, "encoding": {"y": {"datum": -5.39}, "y2": {"datum": 5.39}}},
     {"data": {"name": "grid"}, "mark": {"type": "rule", "color": "#c8c8c8", "strokeDash": [1,3]}, "encoding": {"x": {"datum": -5.39}, "x2": {"datum": 5.39}}},
     {"data": {"name": "sc"}, "transform": [{"filter": "!datum.ob"}], "mark": {"type": "circle", "size": 28, "color": "#000", "opacity": 1}, "encoding": {}},
     {"data": {"name": "ell"}, "mark": {"type": "line", "interpolate": "cardinal-closed", "strokeWidth": 2}, "encoding": {"order": {"field": "k", "type": "quantitative"}, "color": {"field": "e", "type": "nominal", "scale": {"domain": ["E1","E2"], "range": ["#ff0000","#0000ff"]}, "legend": null}}},
     {"data": {"name": "sc"}, "transform": [{"filter": "datum.ob"}], "mark": {"type": "point", "shape": "M-1,0L1,0M0,-1L0,1M-0.72,-0.72L0.72,0.72M-0.72,0.72L0.72,-0.72", "size": 121, "color": "#ff0000", "strokeWidth": 1.3, "opacity": 1}, "encoding": {}}
   ]}
]},
{"spacing": 25, "hconcat": [
  {"width": 766, "height": 290, "title": {"text": " ", "offset": 7}, "data": {"name": "ts"},
   "encoding": {
     "x": {"field": "t", "type": "quantitative", "scale": {"domain": [-15, 416], "nice": false, "zero": false},
           "axis": {"values": [0,40,80,120,160,200,240,280,320,360,400], "title": "(c)  Lin-MEWMA", "titleFont": "Liberation Serif", "titleFontSize": 27, "titleX": 524, "titlePadding": 17}},
     "y": {"field": "c", "type": "quantitative", "scale": {"domain": [-2.235, 3.27], "nice": false, "zero": false},
           "axis": {"values": [-2,-1,0,1,2,3], "title": "Lin−MEWMA"}}},
   "layer": [
     {"data": {"values": [{}]}, "mark": {"type": "rule", "strokeDash": [1,3], "color": "#000"}, "encoding": {"y": {"datum": 1.84}, "x": {"datum": -15}, "x2": {"datum": 416}}},
     {"data": {"values": [{}]}, "mark": {"type": "rule", "strokeDash": [1,3], "color": "#000"}, "encoding": {"y": {"datum": -1.855}, "x": {"datum": -15}, "x2": {"datum": 416}}},
     {"data": {"values": [{}]}, "mark": {"type": "rule", "color": "#333"}, "encoding": {"y": {"datum": 0.157}, "x": {"datum": -15}, "x2": {"datum": 416}}},
     {"data": {"values": [{}]}, "mark": {"type": "rule", "strokeDash": [6,3], "color": "#555"}, "encoding": {"x": {"datum": 201}, "y": {"datum": -2.235}, "y2": {"datum": 3.27}}},
     {"mark": {"type": "line", "color": "#000", "strokeWidth": 0.9}, "encoding": {}},
     {"transform": [{"filter": "datum.c <= 1.84 && datum.c >= -1.855"}], "mark": {"type": "circle", "size": 34, "color": "#000", "opacity": 1}, "encoding": {}},
     {"transform": [{"filter": "datum.c > 1.84 || datum.c < -1.855"}], "mark": {"type": "point", "shape": "M-1,0L1,0M0,-1L0,1M-0.72,-0.72L0.72,0.72M-0.72,0.72L0.72,-0.72", "size": 140, "color": "#ff0000", "strokeWidth": 1.3, "opacity": 1}, "encoding": {}}
   ]},
  {"width": 329, "height": 290, "title": {"text": "Lin−MEWMA", "offset": 7},
   "encoding": {
     "x": {"field": "x", "type": "quantitative", "scale": {"domain": [-5.39, 5.39], "nice": false, "zero": false}, "axis": {"values": [-4,-2,0,2,4], "title": "y₁"}},
     "y": {"field": "y", "type": "quantitative", "scale": {"domain": [-5.39, 5.39], "nice": false, "zero": false}, "axis": {"values": [-4,-2,0,2,4], "title": "y₂"}}},
   "layer": [
     {"data": {"name": "grid"}, "mark": {"type": "rule", "color": "#c8c8c8", "strokeDash": [1,3]}, "encoding": {"y": {"datum": -5.39}, "y2": {"datum": 5.39}}},
     {"data": {"name": "grid"}, "mark": {"type": "rule", "color": "#c8c8c8", "strokeDash": [1,3]}, "encoding": {"x": {"datum": -5.39}, "x2": {"datum": 5.39}}},
     {"data": {"name": "sc"}, "transform": [{"filter": "!datum.oc"}], "mark": {"type": "circle", "size": 28, "color": "#000", "opacity": 1}, "encoding": {}},
     {"data": {"name": "ell"}, "mark": {"type": "line", "interpolate": "cardinal-closed", "strokeWidth": 2}, "encoding": {"order": {"field": "k", "type": "quantitative"}, "color": {"field": "e", "type": "nominal", "scale": {"domain": ["E1","E2"], "range": ["#ff0000","#0000ff"]}, "legend": null}}},
     {"data": {"name": "sc"}, "transform": [{"filter": "datum.oc"}], "mark": {"type": "point", "shape": "M-1,0L1,0M0,-1L0,1M-0.72,-0.72L0.72,0.72M-0.72,0.72L0.72,-0.72", "size": 121, "color": "#ff0000", "strokeWidth": 1.3, "opacity": 1}, "encoding": {}}
   ]}
]}
]
}
